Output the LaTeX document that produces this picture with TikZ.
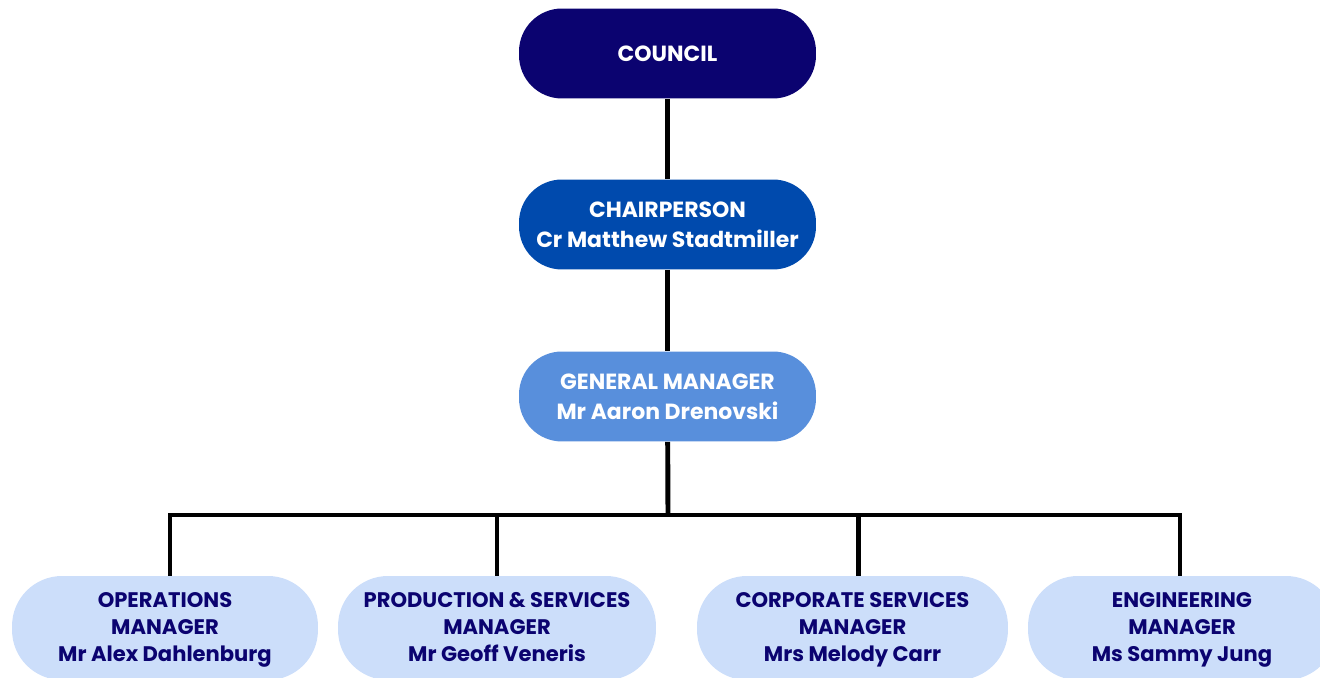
\documentclass[tikz,border=0pt]{standalone}
\usepackage{fontspec}
\setmainfont{Poppins}
\definecolor{councilnavy}{RGB}{11,3,112}
\definecolor{chairblue}{RGB}{0,74,173}
\definecolor{gmblue}{RGB}{88,143,220}
\definecolor{staffblue}{RGB}{204,222,250}
\newcommand\capstrut{\rule[-0.3em]{0pt}{1em}}

\tikzset{
  topbox/.style={rectangle, rounded corners=0.86cm, minimum width=5.94cm, minimum height=1.8cm,
    align=center, text=white, font=\fontsize{12.5}{17}\selectfont\bfseries, inner sep=0pt,
    execute at begin node=\capstrut, execute at end node=\capstrut, text depth=-0.8pt},
  staffbox/.style={rectangle, rounded corners=1cm, minimum height=2.08cm, fill=staffblue,
    align=center, text=councilnavy, font=\fontsize{12}{15.4}\selectfont\bfseries, inner sep=0pt,
    execute at begin node=\capstrut, execute at end node=\capstrut, text depth=1.3pt},
  link/.style={line width=2.8pt, black, line join=miter}
}

\begin{document}
\begin{tikzpicture}[x=0.02cm,y=-0.02cm]
                \useasboundingbox (0,0) rectangle (1320,678);
                \clip (0,0) rectangle (1320,678);
                % top of the chart
                \node[topbox, fill=councilnavy] (council) at (667.5,53.5) {COUNCIL};
                \node[topbox, fill=chairblue] (chair) at (667.5,224.5) {CHAIRPERSON\\Cr Matthew Stadtmiller};
                \node[topbox, fill=gmblue] (gm) at (667.5,396.5) {GENERAL MANAGER\\Mr Aaron Drenovski};
                % managers
                \node[staffbox, minimum width=6.12cm] (ops) at (165,628) {OPERATIONS\\MANAGER\\Mr Alex Dahlenburg};
                \node[staffbox, minimum width=6.36cm] (prod) at (497,628) {PRODUCTION \& SERVICES\\MANAGER\\Mr Geoff Veneris};
                \node[staffbox, minimum width=6.22cm] (corp) at (852.5,628) {CORPORATE SERVICES\\MANAGER\\Mrs Melody Carr};
                \node[staffbox, minimum width=6.16cm] (eng) at (1182,628) {ENGINEERING\\MANAGER\\Ms Sammy Jung};
                % connectors
                \draw[link] (council) -- (chair);
                \draw[link] (chair) -- (gm);
                \coordinate (bus) at (668,515);
                \draw[link] (gm) -- (bus);
                \draw[link] ([xshift=0.1cm]ops.north) |- (bus) -| ([xshift=-0.04cm]eng.north);
                \draw[link] (prod.north) -- (prod.north |- bus);
                \draw[link] ([xshift=0.12cm]corp.north) -- ([xshift=0.12cm]corp.north |- bus);
\end{tikzpicture}
\end{document}
